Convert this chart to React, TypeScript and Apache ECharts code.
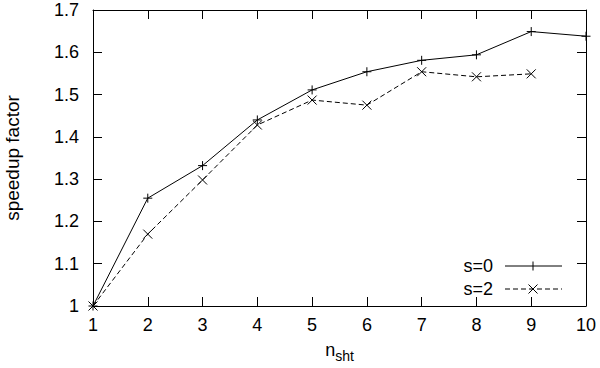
import React, { useEffect, useRef } from "react";
import * as echarts from "echarts";

const xValues = [1, 2, 3, 4, 5, 6, 7, 8, 9, 10];
const s0Values = [1.0, 1.255, 1.332, 1.44, 1.511, 1.554, 1.581, 1.594, 1.649, 1.638];
const s2Values = [1.0, 1.17, 1.298, 1.428, 1.487, 1.475, 1.554, 1.542, 1.549];
const seriesNames = ["s=0", "s=2"];
const xName = { base: "n", sub: "sht" };
const yName = "speedup factor";

const FONT = "'Liberation Sans', Arial, Helvetica, sans-serif";
const PLUS = "path://M5,0 L5,10 M0,5 L10,5";
const CROSS = "path://M0,0 L10,10 M10,0 L0,10";
const DASH = [5, 3];

export default function App() {
  const ref = useRef<HTMLDivElement>(null);
  useEffect(() => {
    const chart = echarts.init(ref.current!, undefined, { renderer: "svg" });
    const toPairs = (vals: number[]) => vals.map((v, i) => [xValues[i], v]);
    const axisCommon = {
      type: "value" as const,
      axisLine: { show: true, lineStyle: { color: "#000", width: 1 } },
      axisTick: { show: true, inside: true, length: 9, lineStyle: { color: "#000" } },
      splitLine: { show: false },
    };

    const legendRows = [
      { y: 266, dash: null as number[] | null, marker: "plus" },
      { y: 289, dash: DASH, marker: "cross" },
    ];
    const legendGraphics: any[] = [];
    legendRows.forEach((row, i) => {
      legendGraphics.push({
        type: "text",
        x: 493,
        y: row.y,
        style: {
          text: seriesNames[i],
          fill: "#000",
          font: `18px ${FONT}`,
          align: "right",
          verticalAlign: "middle",
        },
      });
      legendGraphics.push({
        type: "line",
        shape: { x1: 505, y1: row.y, x2: 562, y2: row.y },
        style: { stroke: "#000", lineWidth: 1, lineDash: row.dash || undefined },
      });
      const cx = 533, cy = row.y, h = 4.5;
      if (row.marker === "plus") {
        legendGraphics.push({ type: "line", shape: { x1: cx, y1: cy - h, x2: cx, y2: cy + h }, style: { stroke: "#000", lineWidth: 1 } });
      } else {
        legendGraphics.push({ type: "line", shape: { x1: cx - h, y1: cy - h, x2: cx + h, y2: cy + h }, style: { stroke: "#000", lineWidth: 1 } });
        legendGraphics.push({ type: "line", shape: { x1: cx + h, y1: cy - h, x2: cx - h, y2: cy + h }, style: { stroke: "#000", lineWidth: 1 } });
      }
    });

    chart.setOption({
      animation: false,
      backgroundColor: "#fff",
      textStyle: { fontFamily: FONT },
      grid: { left: 93, right: 14, top: 10, bottom: 62, containLabel: false, outerBoundsMode: "none" },
      xAxis: [
        {
          ...axisCommon,
          position: "bottom",
          min: 1,
          max: 10,
          interval: 1,
          axisLabel: { color: "#000", fontSize: 18, fontFamily: FONT, margin: 10 },
          name: `{n|${xName.base}}{s|${xName.sub}}`,
          nameLocation: "middle",
          nameGap: 35,
          nameTextStyle: {
            rich: {
              n: { fontSize: 18, fontFamily: FONT, color: "#000", verticalAlign: "top", lineHeight: 22 },
              s: { fontSize: 14, fontFamily: FONT, color: "#000", verticalAlign: "bottom", lineHeight: 22 },
            },
          },
        },
        {
          ...axisCommon,
          position: "top",
          min: 1,
          max: 10,
          interval: 1,
          axisLabel: { show: false },
        },
      ],
      yAxis: [
        {
          ...axisCommon,
          position: "left",
          min: 1,
          max: 1.7,
          interval: 0.1,
          axisLabel: {
            color: "#000",
            fontSize: 18,
            fontFamily: FONT,
            margin: 14,
            formatter: (v: number) => String(+v.toFixed(1)),
          },
          name: yName,
          nameLocation: "middle",
          nameGap: 71,
          nameTextStyle: { color: "#000", fontSize: 19, fontFamily: FONT },
        },
        {
          ...axisCommon,
          position: "right",
          min: 1,
          max: 1.7,
          interval: 0.1,
          axisLabel: { show: false },
        },
      ],
      graphic: legendGraphics,
      series: [
        {
          name: seriesNames[0],
          type: "line",
          data: toPairs(s0Values),
          symbol: PLUS,
          symbolSize: 9,
          showAllSymbol: true,
          lineStyle: { color: "#000", width: 1 },
          itemStyle: { color: "none", borderColor: "#000", borderWidth: 1 },
        },
        {
          name: seriesNames[1],
          type: "line",
          data: toPairs(s2Values),
          symbol: CROSS,
          symbolSize: 9,
          showAllSymbol: true,
          lineStyle: { color: "#000", width: 1, type: DASH },
          itemStyle: { color: "none", borderColor: "#000", borderWidth: 1 },
        },
      ],
    });
    return () => chart.dispose();
  }, []);
  return <div ref={ref} style={{ width: 600, height: 368, position: "absolute", left: 0, top: 0 }} />;
}
